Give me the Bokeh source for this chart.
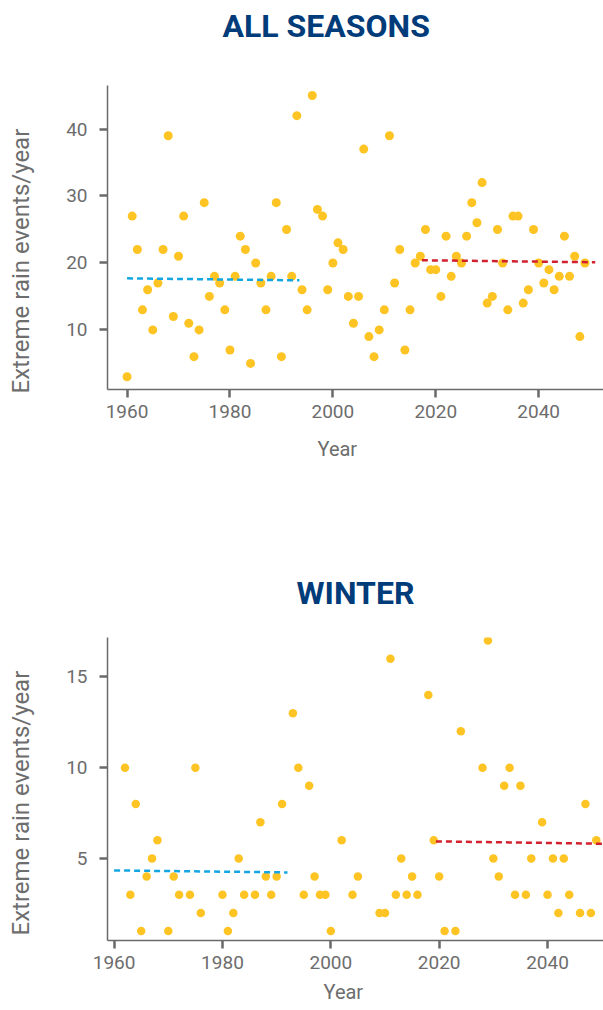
from bokeh.plotting import figure
from bokeh.models import Title
from bokeh.layouts import column
from bokeh.embed import file_html
from bokeh.resources import INLINE

# ---------------- data ----------------
years_all = list(range(1960, 2050))
events_all = [3, 27, 22, 13, 16, 10, 17, 22, 39, 12,
              21, 27, 11, 6, 10, 29, 15, 18, 17, 13,
              7, 18, 24, 22, 5, 20, 17, 13, 18, 29,
              6, 25, 18, 42, 16, 13, 45, 28, 27, 16,
              20, 23, 22, 15, 11, 15, 37, 9, 6, 10,
              13, 39, 17, 22, 7, 13, 20, 21, 25, 19,
              19, 15, 24, 18, 21, 20, 24, 29, 26, 32,
              14, 15, 25, 20, 13, 27, 27, 14, 16, 25,
              20, 17, 19, 16, 18, 24, 18, 21, 9, 20]

winter_years = [1962, 1963, 1964, 1965, 1966, 1967, 1968, 1970, 1971, 1972,
                1974, 1975, 1976, 1980, 1981, 1982, 1983, 1984, 1986, 1987,
                1988, 1989, 1990, 1991, 1993, 1994, 1995, 1996, 1997, 1998,
                1999, 2000, 2002, 2004, 2005, 2009, 2010, 2011, 2012, 2013,
                2014, 2015, 2016, 2018, 2019, 2020, 2021, 2023, 2024, 2028,
                2029, 2030, 2031, 2032, 2033, 2034, 2035, 2036, 2037, 2039,
                2040, 2041, 2042, 2043, 2044, 2046, 2047, 2048, 2049]
winter_events = [10, 3, 8, 1, 4, 5, 6, 1, 4, 3,
                 3, 10, 2, 3, 1, 2, 5, 3, 3, 7,
                 4, 3, 4, 8, 13, 10, 3, 9, 4, 3,
                 3, 1, 6, 3, 4, 2, 2, 16, 3, 5,
                 3, 4, 3, 14, 6, 4, 1, 1, 12, 10,
                 17, 5, 4, 9, 10, 3, 9, 3, 5, 7,
                 3, 5, 2, 5, 3, 2, 8, 2, 6]

# trend lines (start/end)
all_hist_x = [1960, 1993.5]
all_hist_y = [17.7, 17.4]
all_fut_x = [2017.3, 2051]
all_fut_y = [20.4, 20.1]

win_hist_x = [1960, 1992]
win_hist_y = [4.34, 4.23]
win_fut_x = [2019.4, 2050.3]
win_fut_y = [5.94, 5.81]

x_ticks = [1960, 1980, 2000, 2020, 2040]
all_y_ticks = [10, 20, 30, 40]
win_y_ticks = [5, 10, 15]

# ---------------- style ----------------
DOT = "#FDC424"
BLUE = "#13A6E2"
RED = "#D2202E"
NAVY = "#003B7A"
GREY = "#6d6d6d"
AXIS = "#6a6a6a"
FONT = "Roboto"


def heading(text, align, offset, standoff):
    return Title(text=text, align=align, offset=offset, text_font=FONT,
                 text_font_size="32px", text_font_style="bold",
                 text_color=NAVY, standoff=standoff)


def style(p, yticks, year_offset, year_standoff, ylab_offset):
    p.xgrid.grid_line_color = None
    p.ygrid.grid_line_color = None
    p.outline_line_color = None

    for ax in (p.xaxis[0], p.yaxis[0]):
        ax.axis_line_color = AXIS
        ax.axis_line_width = 1.5
        ax.major_tick_line_color = AXIS
        ax.major_tick_line_width = 2.5
        ax.major_tick_out = 8
        ax.major_tick_in = 0
        ax.minor_tick_line_color = None
        ax.major_label_text_font = FONT
        ax.major_label_text_font_size = "19px"
        ax.major_label_text_color = GREY

    p.xaxis.ticker = x_ticks
    p.yaxis.ticker = yticks
    p.xaxis.major_label_standoff = 7
    p.yaxis.major_label_standoff = 12

    # y-axis title: spacer, then the label, placed outward from the axis
    p.add_layout(Title(text=" ", text_font_size="10px", standoff=16), "left")
    p.add_layout(Title(text="Extreme rain events/year", align="left",
                       offset=ylab_offset, text_font=FONT,
                       text_font_size="24px", text_font_style="normal",
                       text_color=GREY, standoff=0), "left")

    p.add_layout(Title(text="Year", align="left", offset=year_offset,
                       text_font=FONT, text_font_size="20px",
                       text_font_style="normal", text_color=GREY,
                       standoff=year_standoff), "below")


# ---------------- ALL SEASONS ----------------
p1 = figure(width=603, height=540, x_range=(1956.2, 2052.6), y_range=(1.1, 46.5),
            output_backend="svg", toolbar_location=None,
            min_border_left=107, min_border_right=0, min_border_top=85,
            min_border_bottom=151)
p1.title.text = ""
# spacer between the plot and its heading, then the heading itself
p1.add_layout(Title(text=" ", text_font_size="10px", standoff=26), "above")
p1.add_layout(heading("ALL SEASONS", "left", 115, 4), "above")
style(p1, all_y_ticks, 210, 29, -4)
p1.scatter(years_all, events_all, size=9, fill_color=DOT, line_color=None)
p1.line(all_hist_x, all_hist_y, line_color=BLUE, line_width=2.5, line_dash="6 4")
p1.line(all_fut_x, all_fut_y, line_color=RED, line_width=2.5, line_dash="6 4")

# ---------------- WINTER ----------------
p2 = figure(width=603, height=470, x_range=(1958.78, 2050.33), y_range=(0.48, 17.17),
            output_backend="svg", toolbar_location=None,
            min_border_left=107, min_border_right=0, min_border_top=97,
            min_border_bottom=70)
p2.title.text = ""
p2.add_layout(heading("WINTER", "center", 0, 51), "above")
style(p2, win_y_ticks, 216, 12, 5)
p2.scatter(winter_years, winter_events, size=8.5, fill_color=DOT, line_color=None)
p2.line(win_hist_x, win_hist_y, line_color=BLUE, line_width=2.5, line_dash="6 4")
p2.line(win_fut_x, win_fut_y, line_color=RED, line_width=2.5, line_dash="6 4")

layout = column(p1, p2, spacing=0)
open("out.html", "w").write(file_html(layout, INLINE))
